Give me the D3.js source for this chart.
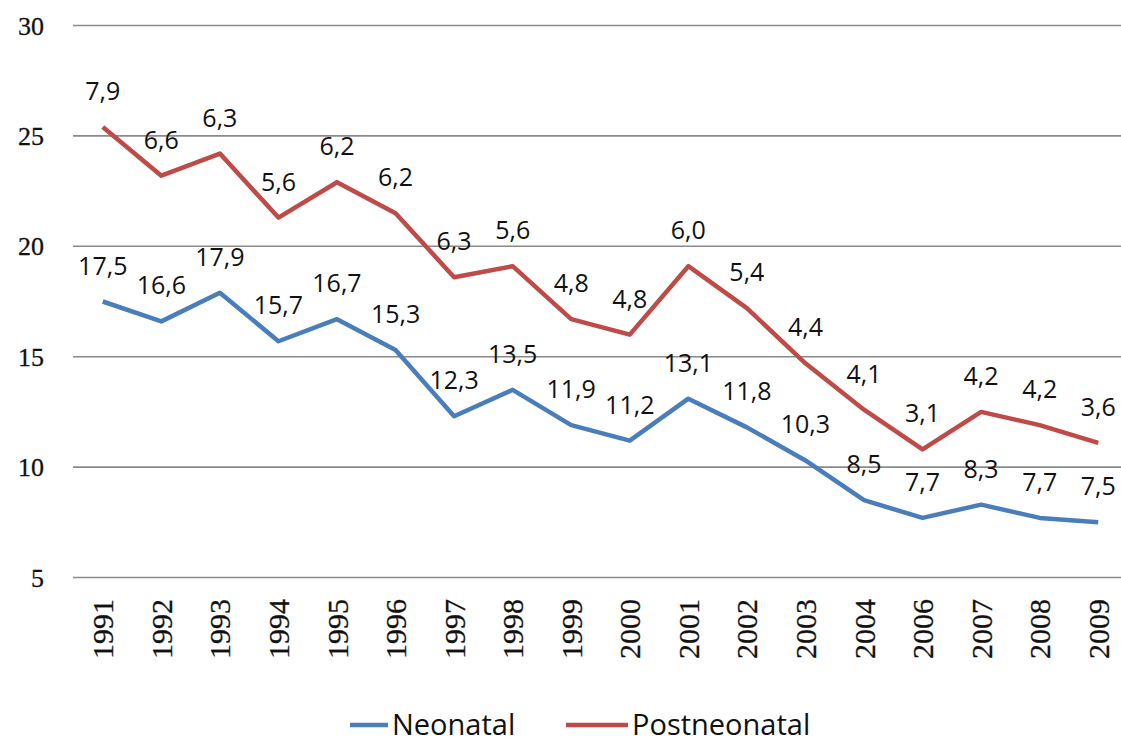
<!DOCTYPE html>
<html><head><meta charset="utf-8">
<script src="https://cdn.jsdelivr.net/npm/d3@7"></script>
<style>body{margin:0;background:#fff}svg{display:block}</style>
</head><body><svg id="c" width="1121" height="744"></svg>
<script>
const years = ["1991","1992","1993","1994","1995","1996","1997","1998","1999","2000","2001","2002","2003","2004","2006","2007","2008","2009"];
const neonatal = [17.5,16.6,17.9,15.7,16.7,15.3,12.3,13.5,11.9,11.2,13.1,11.8,10.3,8.5,7.7,8.3,7.7,7.5];
const postneonatal = [7.9,6.6,6.3,5.6,6.2,6.2,6.3,5.6,4.8,4.8,6.0,5.4,4.4,4.1,3.1,4.2,4.2,3.6];
const yTicks = [5,10,15,20,25,30];
const seriesNames = ["Neonatal","Postneonatal"];
const colors = ["#4A7EBB","#BE4B48"];

const svg = d3.select("#c");
const x = d3.scaleBand().domain(years).range([73.5, 1127.5]);
const y = d3.scaleLinear().domain([5,30]).range([577.5, 25.5]);
const cx = d => x(d) + x.bandwidth()/2;

// gridlines
svg.append("g").selectAll("line").data(yTicks).join("line")
  .attr("x1", 73).attr("x2", 1121)
  .attr("y1", d => y(d)).attr("y2", d => y(d))
  .attr("stroke", "#8a8a8a").attr("stroke-width", 1.6);

// y labels
svg.append("g").selectAll("text").data(yTicks).join("text")
  .attr("x", 44).attr("y", d => y(d)).attr("dy", "0.35em")
  .attr("text-anchor", "end")
  .style("font-family", "Liberation Serif").style("font-size", "26px")
  .attr("fill", "#111").attr("stroke", "#111").attr("stroke-width", 0.3)
  .text(d => d);

// x labels
svg.append("g").selectAll("text").data(years).join("text")
  .attr("transform", d => `translate(${cx(d)},599) rotate(-90)`)
  .attr("dy", "0.35em").attr("text-anchor", "end")
  .style("font-family", "Liberation Serif").style("font-size", "30px")
  .attr("fill", "#111").attr("stroke", "#111").attr("stroke-width", 0.3)
  .text(d => d);

const stacked = neonatal.map((v,i) => +(v + postneonatal[i]).toFixed(1));
const lines = [neonatal, stacked];
const labels = [neonatal, postneonatal];
const line = d3.line().x((d,i) => cx(years[i])).y(d => y(d));

lines.forEach((vals, s) => {
  svg.append("path").datum(vals).attr("d", line)
    .attr("fill", "none").attr("stroke", colors[s]).attr("stroke-width", 4.5)
    .attr("stroke-linejoin", "round");
});
lines.forEach((vals, s) => {
  svg.append("g").selectAll("text").data(vals).join("text")
    .attr("x", (d,i) => cx(years[i])).attr("y", d => y(d) - 27)
    .attr("text-anchor", "middle")
    .style("font-family", "Open Sans").style("font-size", "25px").attr("fill", "#111")
    .text((d,i) => labels[s][i].toFixed(1).replace(".", ","));
});

// legend
const leg = svg.append("g");
const legItems = [{x: 350, w: 38}, {x: 566, w: 62}];
seriesNames.forEach((n, i) => {
  leg.append("line").attr("x1", legItems[i].x).attr("x2", legItems[i].x + legItems[i].w)
    .attr("y1", 725).attr("y2", 725).attr("stroke", colors[i]).attr("stroke-width", 4.5);
  leg.append("text").attr("x", legItems[i].x + legItems[i].w + 4).attr("y", 735)
    .style("font-family", "Open Sans").style("font-size", "29px").attr("fill", "#111")
    .text(n);
});
</script></body></html>
